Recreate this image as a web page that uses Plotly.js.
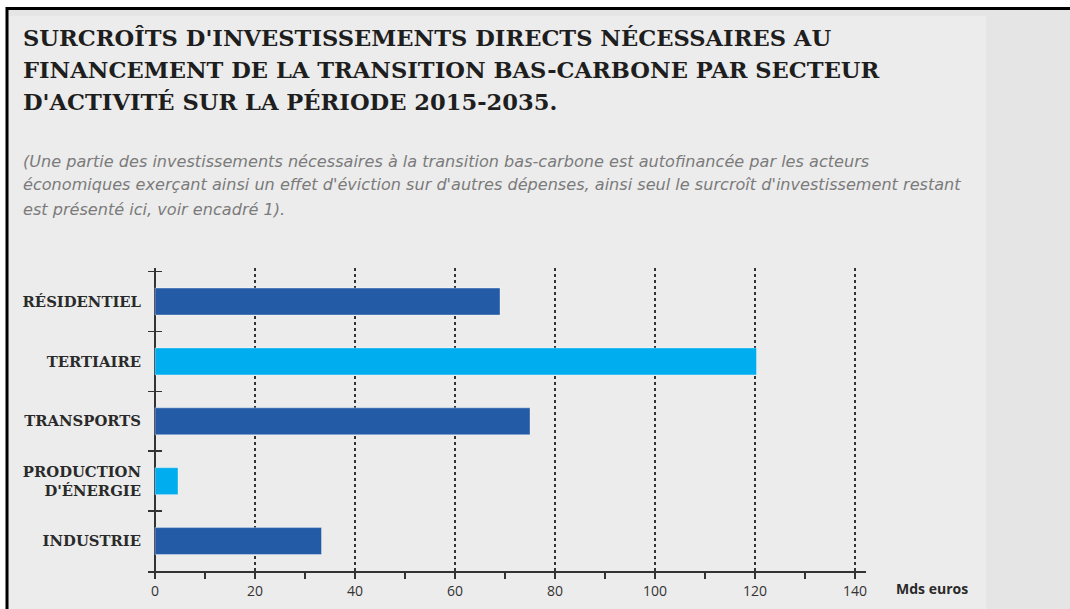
<!DOCTYPE html>
<html>
<head>
<meta charset="utf-8">
<script src="https://cdn.plot.ly/plotly-3.0.1.min.js"></script>
<style>html,body{margin:0;padding:0;background:#fff;}#chart{width:1070px;height:609px;}</style>
</head>
<body>
<div id="chart"></div>
<script>
// ---- data ----
var categories = ["RÉSIDENTIEL", "TERTIAIRE", "TRANSPORTS", "PRODUCTION<br>D'ÉNERGIE", "INDUSTRIE"];
var values = [69, 120.3, 75, 4.6, 33.3];
var barColors = ["#245ba7", "#00aeef", "#245ba7", "#00aeef", "#245ba7"];
var xTickVals = [0, 20, 40, 60, 80, 100, 120, 140];
var xTickText = ["0", "20", "40", "60", "80", "100", "120", "140"];
var titleLines = [
  "SURCROÎTS D'INVESTISSEMENTS DIRECTS NÉCESSAIRES AU",
  "FINANCEMENT DE LA TRANSITION BAS-CARBONE PAR SECTEUR",
  "D'ACTIVITÉ SUR LA PÉRIODE 2015-2035."
];
var noteLines = [
  "(Une partie des investissements nécessaires à la transition bas-carbone est autofinancée par les acteurs",
  "économiques exerçant ainsi un effet d'éviction sur d'autres dépenses, ainsi seul le surcroît d'investissement restant",
  "est présenté ici, voir encadré 1)."
];
var unitLabel = "Mds euros";

// ---- layout geometry ----
var W = 1070, H = 609;
var M = {l: 148, r: 204, t: 268, b: 38};
var PW = W - M.l - M.r, PH = H - M.t - M.b;
function px(x) { return (x - M.l) / PW; }
function py(y) { return (H - M.b - y) / PH; }

var shapes = [
  {type: 'rect', xref: 'paper', yref: 'paper', x0: px(0), x1: px(W), y0: py(0), y1: py(H), fillcolor: '#ffffff', line: {width: 0}, layer: 'below'},
  {type: 'rect', xref: 'paper', yref: 'paper', x0: px(7), x1: px(W), y0: py(9), y1: py(H), fillcolor: '#e5e5e5', line: {width: 0}, layer: 'below'},
  {type: 'rect', xref: 'paper', yref: 'paper', x0: px(9), x1: px(986), y0: py(16), y1: py(H), fillcolor: '#ececec', line: {width: 0}, layer: 'below'},
  {type: 'line', xref: 'paper', yref: 'paper', x0: px(6), x1: px(W), y0: py(8.5), y1: py(8.5), line: {color: '#000', width: 3}},
  {type: 'line', xref: 'paper', yref: 'paper', x0: px(7), x1: px(7), y0: py(7), y1: py(H), line: {color: '#000', width: 3}}
];

var slab = "DejaVu Serif";
var annotations = [];
var titleFont = {family: slab, size: 22.6, color: '#1e1e1e', weight: 'bold'};
titleLines.forEach(function (t, i) {
  annotations.push({text: t, xref: 'paper', yref: 'paper', x: px(21), y: py(38 + i * 32),
    xanchor: 'left', yanchor: 'middle', showarrow: false, font: titleFont});
});
noteLines.forEach(function (t, i) {
  annotations.push({text: t, xref: 'paper', yref: 'paper', x: px(21), y: py(161 + i * 24),
    xanchor: 'left', yanchor: 'middle', showarrow: false,
    font: {family: "DejaVu Sans", size: 16.1, color: '#7b7b7b', style: 'italic'}});
});
annotations.push({text: unitLabel, xref: 'paper', yref: 'paper', x: px(894), y: py(588),
  xanchor: 'left', yanchor: 'middle', showarrow: false,
  font: {family: "Open Sans, sans-serif", size: 14, color: '#2a2a2a', weight: 'bold'}});

var trace = {
  type: 'bar', orientation: 'h',
  x: values, y: categories,
  width: 0.45,
  marker: {color: barColors, line: {color: 'rgba(255,255,255,0.35)', width: 1}},
  hoverinfo: 'x+y'
};

var layout = {
  width: W, height: H,
  margin: M,
  paper_bgcolor: '#ffffff',
  plot_bgcolor: 'rgba(0,0,0,0)',
  showlegend: false,
  shapes: shapes,
  annotations: annotations,
  xaxis: {
    range: [-1.4, 142.2],
    tickvals: xTickVals, ticktext: xTickText,
    ticks: 'outside', ticklen: 6, tickwidth: 1.5, tickcolor: '#333',
    minor: {dtick: 10, tick0: 0, ticks: 'outside', ticklen: 6, tickwidth: 1.5, tickcolor: '#333', showgrid: false},
    showgrid: true, gridcolor: '#333', griddash: 'dot', gridwidth: 1.2,
    zeroline: true, zerolinecolor: '#333', zerolinewidth: 2,
    showline: true, linecolor: '#333', linewidth: 2,
    tickfont: {family: "Open Sans, sans-serif", size: 14, color: '#333'},
    fixedrange: true
  },
  xaxis2: {
    overlaying: 'x', anchor: 'y', side: 'bottom',
    range: [-1.4, 142.2], tick0: 0, dtick: 10,
    ticks: 'inside', ticklen: 6, tickwidth: 1.5, tickcolor: '#333',
    showticklabels: false, showgrid: false, zeroline: false, showline: false
  },
  yaxis: {
    type: 'category',
    range: [4.5, -0.56],
    tickson: 'boundaries',
    ticks: 'inside', ticklen: 14, tickwidth: 1.5, tickcolor: '#333',
    showgrid: false, showline: false, zeroline: false,
    ticklabelstandoff: 6,
    tickfont: {family: slab, size: 14.8, color: '#2a2a2a', weight: 'bold'},
    fixedrange: true
  }
};

Plotly.newPlot('chart', [trace], layout, {displayModeBar: false, staticPlot: true});
</script>
</body>
</html>
